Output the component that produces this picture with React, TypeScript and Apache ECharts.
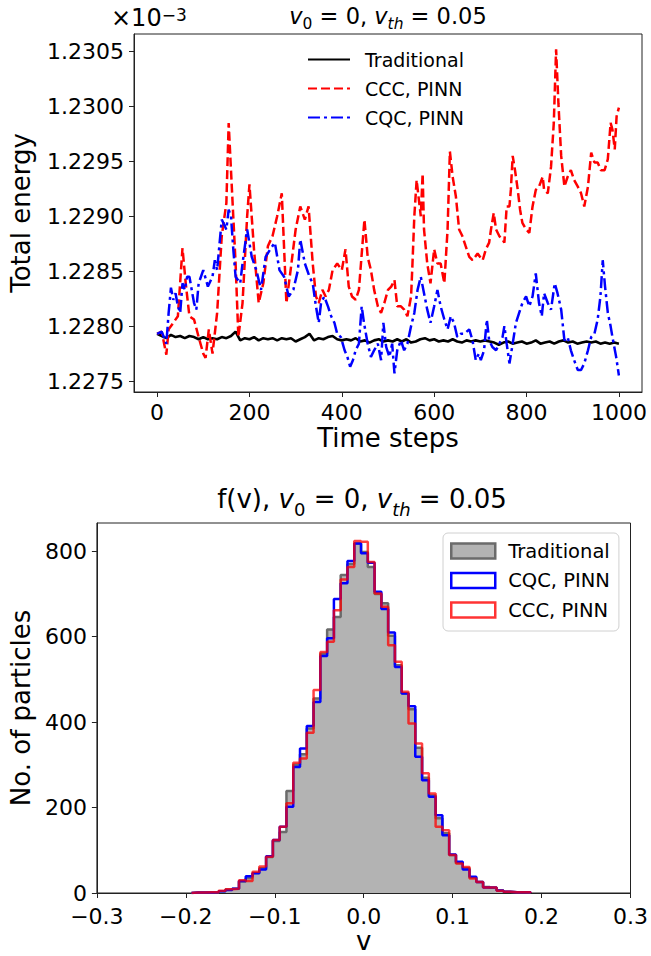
import React, { useEffect, useRef } from 'react';
import * as echarts from 'echarts';

const FONT = 'DejaVu Sans';

// ---------- Top chart: total energy vs time steps (units of 1e-3) ----------
const tradT = [0,10,20,30,40,50,60,70,80,90,100,110,120,130,140,150,160,170,180,190,200,210,220,230,240,250,260,270,280,290,300,310,320,330,340,350,360,370,380,390,400,410,420,430,440,450,460,470,480,490,500,510,520,530,540,550,560,570,580,590,600,610,620,630,640,650,660,670,680,690,700,710,720,730,740,750,760,770,780,790,800,810,820,830,840,850,860,870,880,890,900,910,920,930,940,950,960,970,980,990,1000];
const tradE = [1.22793,1.22791,1.22789,1.22792,1.2279,1.22791,1.22789,1.22791,1.2279,1.22788,1.2279,1.22788,1.22789,1.22788,1.2279,1.22789,1.22791,1.22795,1.22787,1.22789,1.22788,1.2279,1.22787,1.22789,1.22788,1.22789,1.22787,1.22789,1.22788,1.22789,1.22786,1.22788,1.2279,1.22793,1.22787,1.22789,1.22788,1.2279,1.22791,1.22788,1.22787,1.22788,1.22787,1.22789,1.22786,1.22787,1.22785,1.22787,1.22788,1.22786,1.22787,1.22786,1.22788,1.22786,1.22788,1.22785,1.22786,1.22788,1.22789,1.22787,1.22788,1.22786,1.22787,1.22786,1.22788,1.22786,1.22785,1.22787,1.22786,1.22787,1.22786,1.22787,1.22786,1.22785,1.22783,1.22785,1.22786,1.22784,1.22785,1.22786,1.22784,1.22785,1.22787,1.22784,1.22785,1.22786,1.22784,1.22786,1.22787,1.22785,1.22786,1.22784,1.22785,1.22786,1.22785,1.22786,1.22784,1.22785,1.22784,1.22785,1.22784];

const cccT = [0,10,20,25,35,45,55,62,70,80,90,100,105,112,120,130,140,150,155,160,170,176,185,195,200,210,220,230,240,250,260,270,280,290,300,310,320,328,337,344,350,358,365,372,380,390,400,408,415,422,430,437,445,449,456,463,470,478,485,492,500,507,514,520,528,535,542,550,553,557,562,571,575,578,585,592,600,607,614,622,629,634,640,647,654,661,668,676,683,694,705,712,719,723,729,734,741,748,752,757,763,766,770,775,781,786,791,799,806,813,820,827,835,838,846,853,859,864,869,875,882,889,896,903,911,918,925,933,940,947,954,961,969,976,982,986,991,995,1000];
const cccE = [1.22793,1.22795,1.22774,1.22797,1.22803,1.22809,1.22871,1.22839,1.22809,1.22806,1.2279,1.22775,1.22771,1.22797,1.22775,1.22812,1.22882,1.22912,1.22985,1.22942,1.22857,1.2279,1.22821,1.229,1.22929,1.22869,1.22821,1.22839,1.22873,1.22882,1.229,1.22921,1.22821,1.22854,1.22888,1.22909,1.22897,1.22909,1.22857,1.22827,1.22821,1.22833,1.22827,1.22833,1.22851,1.22857,1.22851,1.2287,1.22836,1.22827,1.22824,1.22833,1.22876,1.22897,1.22863,1.22851,1.22833,1.22818,1.22812,1.22821,1.22833,1.22836,1.22842,1.22818,1.22818,1.22815,1.22809,1.22827,1.22857,1.229,1.22933,1.229,1.22939,1.22888,1.22857,1.22839,1.2287,1.22857,1.22857,1.22839,1.22888,1.22959,1.22936,1.22918,1.22888,1.22882,1.22873,1.22863,1.2286,1.22866,1.2286,1.2287,1.22876,1.22888,1.22903,1.22888,1.22882,1.22879,1.22876,1.22909,1.22909,1.22924,1.22955,1.22942,1.22924,1.22906,1.22894,1.22888,1.22885,1.22909,1.22924,1.22927,1.22936,1.22924,1.22921,1.22945,1.22985,1.23052,1.23003,1.22955,1.22927,1.22936,1.22942,1.22933,1.22927,1.22921,1.22909,1.22927,1.22958,1.22949,1.22949,1.22942,1.22942,1.22952,1.22985,1.22979,1.22961,1.22991,1.22999];

const cqcT = [0,10,20,25,30,35,40,45,50,55,60,65,70,80,85,90,100,110,120,125,130,140,150,155,160,165,170,180,185,195,205,215,225,235,245,255,265,275,285,295,305,310,320,330,337,344,350,355,362,370,377,384,390,398,406,412,418,424,430,437,443,448,456,463,470,478,485,490,496,503,509,514,520,528,535,542,550,557,564,571,578,585,592,600,607,614,622,629,636,643,650,658,665,676,683,690,697,701,708,714,719,726,734,741,748,752,757,763,770,777,784,791,799,806,813,820,827,833,838,846,853,861,867,875,882,889,896,903,911,918,925,933,940,947,954,960,965,970,976,982,986,994,1000];
const cqcE = [1.22793,1.22795,1.22784,1.22812,1.22835,1.22824,1.2283,1.22818,1.22812,1.22839,1.22833,1.22845,1.22845,1.22821,1.22815,1.22839,1.22851,1.22836,1.22845,1.2286,1.22851,1.22897,1.22888,1.22906,1.229,1.2287,1.22845,1.22839,1.22857,1.22888,1.22863,1.22851,1.22833,1.22863,1.2287,1.22876,1.22851,1.22845,1.22827,1.22833,1.22851,1.22879,1.22857,1.22845,1.22839,1.22818,1.22803,1.22821,1.22827,1.22818,1.22809,1.22803,1.22793,1.2279,1.22778,1.22772,1.22763,1.22769,1.22778,1.22784,1.22818,1.22803,1.22784,1.22772,1.22778,1.22784,1.22769,1.22803,1.22781,1.22772,1.22784,1.22757,1.22778,1.22787,1.22778,1.22784,1.228,1.22812,1.22833,1.22845,1.2283,1.22815,1.22803,1.22818,1.22833,1.22818,1.22806,1.22797,1.22809,1.22803,1.2279,1.22793,1.22793,1.22797,1.22787,1.22769,1.22775,1.22769,1.22778,1.22806,1.22787,1.22781,1.22778,1.22784,1.2279,1.228,1.22784,1.22766,1.22784,1.22803,1.22812,1.22821,1.22827,1.22818,1.22827,1.22848,1.22821,1.22809,1.2283,1.22821,1.22815,1.22839,1.2283,1.22815,1.22787,1.2279,1.22778,1.22769,1.2276,1.2276,1.22766,1.22778,1.2279,1.22793,1.22806,1.22827,1.2286,1.22836,1.22812,1.228,1.2279,1.22772,1.22755];

// ---------- Bottom chart: histogram f(v) ----------
const histMin = -0.1936;
const histMax = 0.1876;
const nBins = 50;
const countsTrad = [1,1,1,2,4,8,10,27,35,47,58,84,122,143,239,300,325,385,455,560,617,646,744,770,818,798,763,700,678,602,533,467,430,340,270,228,175,140,89,70,58,36,26,14,12,6,3,2,2,1];
const countsCQC = [1,1,1,2,4,7,10,28,39,46,55,86,124,155,202,295,338,391,447,555,596,688,725,777,818,795,773,705,665,610,529,467,437,319,264,225,182,135,90,73,55,38,26,13,13,6,3,2,2,2];
const countsCCC = [1,1,2,2,5,9,10,30,28,50,62,85,124,155,210,305,315,375,475,564,588,662,734,763,824,822,775,701,670,580,541,471,397,350,280,233,155,147,89,69,61,34,26,13,13,5,3,2,2,2];

const binEdges: number[] = [];
for (let i = 0; i <= nBins; i++) binEdges.push(histMin + (histMax - histMin) * i / nBins);

function stepPoints(edges: number[], counts: number[]) {
  const pts: number[][] = [[edges[0], 0]];
  counts.forEach((c, i) => {
    pts.push([edges[i], c]);
    pts.push([edges[i + 1], c]);
  });
  pts.push([edges[edges.length - 1], 0]);
  return pts;
}

const zip = (a: number[], b: number[]) => a.map((v, i) => [v, b[i]]);

const minusFmt = (v: number, d: number) => {
  if (Math.abs(v) < 1e-9) return (0).toFixed(d);
  return (v < 0 ? '\u2212' : '') + Math.abs(v).toFixed(d);
};

const richBase = (size: number, sub: number, lh: number, slh: number) => ({
  n: { fontFamily: FONT, fontSize: size, lineHeight: lh, verticalAlign: 'top', color: '#000' },
  i: { fontFamily: FONT, fontSize: size, fontStyle: 'italic', lineHeight: lh, verticalAlign: 'top', color: '#000' },
  s: { fontFamily: FONT, fontSize: sub, lineHeight: slh, verticalAlign: 'bottom', color: '#000' },
  si: { fontFamily: FONT, fontSize: sub, fontStyle: 'italic', lineHeight: slh, verticalAlign: 'bottom', color: '#000' },
  sup: { fontFamily: FONT, fontSize: sub, lineHeight: slh, verticalAlign: 'top', color: '#000' },
});

export default function App() {
  const ref = useRef<HTMLDivElement>(null);
  useEffect(() => {
    document.body.style.margin = '0';
    if (!ref.current) return;
    const chart = echarts.init(ref.current, null, { renderer: 'svg' });
    const axisCommon = {
      splitLine: { show: false },
      axisLine: { show: true, onZero: false, lineStyle: { color: '#222', width: 1 } },
      axisTick: { show: true, length: 5, lineStyle: { color: '#222', width: 1 } },
      nameTextStyle: { fontFamily: FONT, fontSize: 26, color: '#000' },
    };
    const labelCommon = { fontFamily: FONT, fontSize: 22, color: '#000', showMinLabel: false, showMaxLabel: false };
    const option: any = {
      animation: false,
      backgroundColor: '#fff',
      textStyle: { fontFamily: FONT },
      grid: [
        { left: 134, top: 34, width: 508, height: 358, show: true, borderColor: '#222', borderWidth: 1, backgroundColor: 'transparent' },
        { left: 95, top: 523, width: 536, height: 370, show: true, borderColor: '#222', borderWidth: 1, backgroundColor: 'transparent' },
      ],
      xAxis: [
        {
          ...axisCommon, gridIndex: 0, type: 'value', min: -50, max: 1050, splitNumber: 5,
          axisLabel: { ...labelCommon, margin: 9, formatter: (v: number) => String(Math.round(v)) },
          name: 'Time steps', nameLocation: 'middle', nameGap: 33,
        },
        {
          ...axisCommon, gridIndex: 1, type: 'value', min: -0.3, max: 0.3, interval: 0.1,
          axisLabel: { fontFamily: FONT, fontSize: 22, color: '#000', margin: 12, formatter: (v: number) => minusFmt(v, 1) },
          name: 'v', nameLocation: 'middle', nameGap: 33,
        },
      ],
      yAxis: [
        {
          ...axisCommon, gridIndex: 0, type: 'value', min: 1.2274, max: 1.23066, splitNumber: 6,
          axisLabel: { ...labelCommon, margin: 10, formatter: (v: number) => v.toFixed(4) },
          name: 'Total energy', nameLocation: 'middle', nameGap: 100, nameRotate: 90,
        },
        {
          ...axisCommon, gridIndex: 1, type: 'value', min: 0, max: 866, interval: 200,
          axisLabel: { fontFamily: FONT, fontSize: 22, color: '#000', margin: 10, showMaxLabel: false },
          name: 'No. of particles', nameLocation: 'middle', nameGap: 56, nameRotate: 90,
        },
      ],
      legend: [
        {
          orient: 'vertical', left: 307, top: 50, padding: 0, itemGap: 10,
          itemWidth: 42, itemHeight: 14,
          itemStyle: { opacity: 0 },
          textStyle: { fontFamily: FONT, fontSize: 19, color: '#000', padding: [0, 0, 0, 10] },
          data: ['Traditional', 'CCC, PINN', 'CQC, PINN'],
          selectedMode: false,
        },
        {
          orient: 'vertical', left: 443, top: 533, padding: [8, 9, 11, 7], itemGap: 9.5,
          itemWidth: 44, itemHeight: 15,
          borderColor: '#d0d0d0', borderWidth: 1, borderRadius: 5, backgroundColor: '#fff',
          textStyle: { fontFamily: FONT, fontSize: 19.5, color: '#000', padding: [0, 0, 0, 8] },
          formatter: (n: string) => n.replace('h:', ''),
          selectedMode: false,
          data: [
            { name: 'h:Traditional', icon: 'rect', itemStyle: { color: '#b3b3b3', borderColor: '#6b6b6b', borderWidth: 2.5 } },
            { name: 'h:CQC, PINN', icon: 'rect', itemStyle: { color: '#fff', borderColor: '#0000ff', borderWidth: 2.5 } },
            { name: 'h:CCC, PINN', icon: 'rect', itemStyle: { color: '#fff', borderColor: 'rgba(255,0,0,0.8)', borderWidth: 2.5 } },
          ],
        },
      ],
      series: [
        {
          name: 'Traditional', type: 'line', xAxisIndex: 0, yAxisIndex: 0, symbol: 'none',
          data: zip(tradT, tradE), lineStyle: { color: '#000', width: 2.6 }, itemStyle: { color: '#000' }, z: 2,
        },
        {
          name: 'CCC, PINN', type: 'line', xAxisIndex: 0, yAxisIndex: 0, symbol: 'none',
          data: zip(cccT, cccE), lineStyle: { color: '#ff0000', width: 2.5, type: [9, 4] }, itemStyle: { color: '#ff0000' }, z: 3,
        },
        {
          name: 'CQC, PINN', type: 'line', xAxisIndex: 0, yAxisIndex: 0, symbol: 'none',
          data: zip(cqcT, cqcE), lineStyle: { color: '#0000ff', width: 2.5, type: [12, 4, 3, 4] }, itemStyle: { color: '#0000ff' }, z: 4,
        },
        {
          name: 'h:Traditional', type: 'line', xAxisIndex: 1, yAxisIndex: 1, symbol: 'none',
          data: stepPoints(binEdges, countsTrad),
          lineStyle: { color: '#6b6b6b', width: 2.5 },
          areaStyle: { color: '#b3b3b3', opacity: 1, origin: 'start' },
          itemStyle: { color: '#b3b3b3' }, z: 2,
        },
        {
          name: 'h:CQC, PINN', type: 'line', xAxisIndex: 1, yAxisIndex: 1, symbol: 'none',
          data: stepPoints(binEdges, countsCQC),
          lineStyle: { color: '#0000ff', width: 2.5 }, itemStyle: { color: '#0000ff' }, z: 3,
        },
        {
          name: 'h:CCC, PINN', type: 'line', xAxisIndex: 1, yAxisIndex: 1, symbol: 'none',
          data: stepPoints(binEdges, countsCCC),
          lineStyle: { color: 'rgba(255,0,0,0.75)', width: 2.5 }, itemStyle: { color: 'rgba(255,0,0,0.75)' }, z: 4,
        },
      ],
      graphic: [
        {
          type: 'text', x: 388, y: 4, z: 100,
          style: {
            text: '{i|v}{s|0}{n| = 0, }{i|v}{si|th}{n| = 0.05}',
            rich: richBase(22.5, 15.5, 28, 14), align: 'center', verticalAlign: 'top',
            textAlign: 'center', textVerticalAlign: 'top', fontFamily: FONT, fontSize: 22,
          },
        },
        {
          type: 'text', x: 111, y: 6, z: 100,
          style: {
            text: '{n|\u00d710}{sup|\u22123}',
            rich: richBase(24, 17, 28, 14), align: 'left', verticalAlign: 'top',
            textAlign: 'left', textVerticalAlign: 'top', fontFamily: FONT, fontSize: 24,
          },
        },
        {
          type: 'text', x: 362, y: 486, z: 100,
          style: {
            text: '{n|f(v), }{i|v}{s|0}{n| = 0, }{i|v}{si|th}{n| = 0.05}',
            rich: richBase(26, 18, 32, 15), align: 'center', verticalAlign: 'top',
            textAlign: 'center', textVerticalAlign: 'top', fontFamily: FONT, fontSize: 26,
          },
        },
      ],
    };
    chart.setOption(option);
    return () => chart.dispose();
  }, []);
  return <div ref={ref} style={{ width: 651, height: 956 }} />;
}
